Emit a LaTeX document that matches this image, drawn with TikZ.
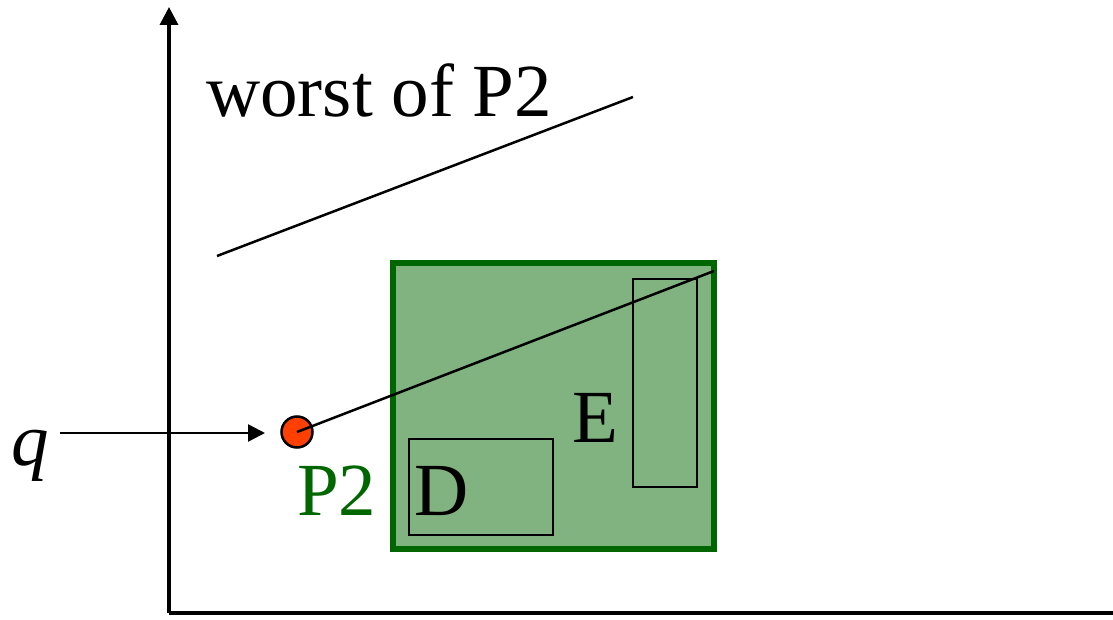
\documentclass[tikz,border=0pt]{standalone}
\usepackage{fontspec}
\setmainfont{Liberation Serif}
\usetikzlibrary{arrows.meta}
\definecolor{boxgreen}{RGB}{128,179,128}
\definecolor{darkgreen}{RGB}{0,102,0}
\definecolor{dotred}{RGB}{255,64,0}
\tikzset{
  big/.style={font=\fontsize{75}{80}\selectfont, inner sep=0pt},
  thinline/.style={line width=2.5pt},
  axisline/.style={line width=3.5pt},
}
\begin{document}
\begin{tikzpicture}[x=1pt,y=1pt]
\useasboundingbox (0,0) rectangle (1113,-620);
% axes
\coordinate (O) at (169,-613);
\coordinate (ytop) at (169,-7);
\coordinate (xend) at (1113,-613);
\draw[axisline,-{Triangle[length=18pt,width=18pt]}] (O) -- (ytop);
\draw[axisline] (O) -- (xend);
% worst line
\coordinate (w1) at (217,-256);
\coordinate (w2) at (633,-97);
\draw[thinline] (w1) -- (w2);
\node[big, anchor=base west] (worst) at (206,-117) {worst of P2};
% green box
\draw[line width=6pt, draw=darkgreen, fill=boxgreen] (393,-263) rectangle (714,-549);
\node[draw, thinline, minimum width=64pt, minimum height=208pt, inner sep=0pt] (Ebox) at (665,-383) {};
\node[draw, thinline, minimum width=144pt, minimum height=96pt, inner sep=0pt] (Dbox) at (481,-487) {};
\node[big, anchor=base west] (E) at (572,-442) {E};
\node[big, anchor=base west] (D) at (414,-515) {D};
\node[big, anchor=base west, text=darkgreen] (P2) at (297,-515) {P2};
% red dot and line
\node[circle, draw, thinline, fill=dotred, minimum size=31pt, inner sep=0pt] (dot) at (297,-432) {};
\coordinate (lend) at (714,-271);
\draw[thinline] (dot.center) -- (lend);
% q arrow
\node[big, anchor=base west] (q) at (11,-465) {\itshape q};
\coordinate (qstart) at (60,-433);
\coordinate (qend) at (265,-433);
\draw[thinline,-{Triangle[length=17pt,width=17pt]}] (qstart) -- (qend);
\end{tikzpicture}
\end{document}
